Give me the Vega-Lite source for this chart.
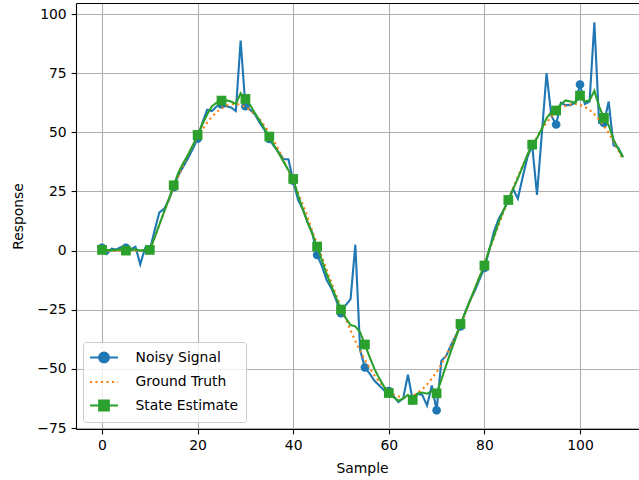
{
  "$schema": "https://vega.github.io/schema/vega-lite/v6.json",
  "width": 563,
  "height": 426,
  "autosize": {"type": "none"},
  "padding": {"left": 76, "top": 3, "right": 0, "bottom": 51},
  "background": "white",
  "config": {
    "view": {"stroke": null},
    "axis": {
      "domainColor": "black", "domainWidth": 1.1,
      "tickColor": "black", "tickWidth": 1.1, "tickSize": 4.9,
      "labelFont": "DejaVu Sans", "labelFontSize": 13.9, "labelColor": "black", "labelPadding": 4.9,
      "titleFont": "DejaVu Sans", "titleFontSize": 13.9, "titleFontWeight": "normal", "titleColor": "black", "titlePadding": 5.6,
      "gridColor": "#b0b0b0", "gridWidth": 1.1, "gridOpacity": 1
    }
  },
  "data": {"values": [
    {"x":0,"n":1.2,"g":0,"s":0.3},{"x":1,"n":-1.5,"g":0,"s":0.2},{"x":2,"n":0.8,"g":0,"s":0.2},{"x":3,"n":0.5,"g":0,"s":0.3},{"x":4,"n":1.5,"g":0,"s":0.5},
    {"x":5,"n":1.2,"g":0,"s":0.0},{"x":6,"n":0.6,"g":0,"s":0.3},{"x":7,"n":1.6,"g":0,"s":0.5},{"x":8,"n":-5.8,"g":0,"s":0.0},{"x":9,"n":1.0,"g":0,"s":0.2},
    {"x":10,"n":0.3,"g":0,"s":0.3},{"x":11,"n":8.5,"g":5.48,"s":5.5},{"x":12,"n":16.2,"g":10.92,"s":11},{"x":13,"n":17.6,"g":16.27,"s":16.5},{"x":14,"n":21.5,"g":21.49,"s":22},
    {"x":15,"n":26.8,"g":26.55,"s":27.6},{"x":16,"n":32,"g":31.39,"s":33},{"x":17,"n":35.5,"g":36.0,"s":37},{"x":18,"n":39,"g":40.32,"s":40.5},{"x":19,"n":43,"g":44.32,"s":44.5},
    {"x":20,"n":47.3,"g":47.98,"s":48.9},{"x":21,"n":54,"g":51.26,"s":53.5},{"x":22,"n":59.5,"g":54.12,"s":57.5},{"x":23,"n":59,"g":56.6,"s":61},{"x":24,"n":61,"g":58.61,"s":62.5},
    {"x":25,"n":61.8,"g":60.18,"s":63.4},{"x":26,"n":61,"g":61.25,"s":63.5},{"x":27,"n":60.5,"g":61.86,"s":63},{"x":28,"n":59,"g":61.98,"s":62},{"x":29,"n":88.8,"g":61.62,"s":66.5},
    {"x":30,"n":61,"g":60.77,"s":64.1},{"x":31,"n":59.5,"g":59.44,"s":61.5},{"x":32,"n":57.5,"g":57.64,"s":58},{"x":33,"n":54,"g":55.41,"s":55},{"x":34,"n":51,"g":52.74,"s":51.5},
    {"x":35,"n":47.2,"g":49.67,"s":48.2},{"x":36,"n":44,"g":46.22,"s":44.5},{"x":37,"n":41.5,"g":42.43,"s":41},{"x":38,"n":38.6,"g":38.31,"s":37.5},{"x":39,"n":38.6,"g":33.92,"s":34},
    {"x":40,"n":29.5,"g":29.28,"s":30.3},{"x":41,"n":21.5,"g":24.43,"s":23.5},{"x":42,"n":17.5,"g":19.41,"s":17.5},{"x":43,"n":12,"g":14.27,"s":12},{"x":44,"n":7.5,"g":8.21,"s":7},
    {"x":45,"n":-1.8,"g":2.74,"s":1.7},{"x":46,"n":-6.5,"g":-2.74,"s":-4},{"x":47,"n":-12.5,"g":-8.21,"s":-10},{"x":48,"n":-16,"g":-13.61,"s":-15},{"x":49,"n":-21,"g":-18.9,"s":-20},
    {"x":50,"n":-26.4,"g":-24.04,"s":-24.9},{"x":51,"n":-23,"g":-29.0,"s":-28.5},{"x":52,"n":-20.5,"g":-33.73,"s":-31.5},{"x":53,"n":2.5,"g":-38.2,"s":-32},{"x":54,"n":-42,"g":-42.36,"s":-34.5},
    {"x":55,"n":-49.4,"g":-46.19,"s":-39.7},{"x":56,"n":-52,"g":-49.67,"s":-45},{"x":57,"n":-55,"g":-52.76,"s":-50},{"x":58,"n":-57,"g":-55.45,"s":-54},{"x":59,"n":-59,"g":-57.67,"s":-57.5},
    {"x":60,"n":-59.4,"g":-59.46,"s":-60.2},{"x":61,"n":-61.5,"g":-60.78,"s":-62},{"x":62,"n":-64,"g":-61.62,"s":-63.5},{"x":63,"n":-62.5,"g":-61.99,"s":-62.5},{"x":64,"n":-52.5,"g":-61.87,"s":-61},
    {"x":65,"n":-63.3,"g":-61.26,"s":-63.1},{"x":66,"n":-60.5,"g":-60.19,"s":-60.5},{"x":67,"n":-61,"g":-58.63,"s":-60},{"x":68,"n":-65.5,"g":-56.61,"s":-60.5},{"x":69,"n":-57,"g":-54.13,"s":-59.5},
    {"x":70,"n":-67.5,"g":-51.26,"s":-60.3},{"x":71,"n":-46.5,"g":-47.98,"s":-54.5},{"x":72,"n":-44.5,"g":-44.33,"s":-48.5},{"x":73,"n":-40,"g":-40.33,"s":-42.5},{"x":74,"n":-36,"g":-36.0,"s":-37},
    {"x":75,"n":-32,"g":-31.4,"s":-31},{"x":76,"n":-26,"g":-26.54,"s":-26},{"x":77,"n":-21,"g":-21.49,"s":-21},{"x":78,"n":-17,"g":-16.27,"s":-16},{"x":79,"n":-12,"g":-10.91,"s":-11},
    {"x":80,"n":-7.3,"g":-5.48,"s":-6.3},{"x":81,"n":0,"g":0,"s":0.5},{"x":82,"n":8,"g":5.48,"s":6},{"x":83,"n":13.5,"g":10.92,"s":12},{"x":84,"n":17,"g":16.27,"s":17},
    {"x":85,"n":21.2,"g":21.49,"s":21.4},{"x":86,"n":26,"g":26.55,"s":26},{"x":87,"n":22,"g":31.39,"s":30.5},{"x":88,"n":31,"g":36.0,"s":35.5},{"x":89,"n":39.5,"g":40.32,"s":40.5},
    {"x":90,"n":44.5,"g":44.32,"s":44.8},{"x":91,"n":23.5,"g":47.98,"s":47.5},{"x":92,"n":49,"g":51.26,"s":51.5},{"x":93,"n":75,"g":54.12,"s":56},{"x":94,"n":57,"g":56.6,"s":58.5},
    {"x":95,"n":53.3,"g":58.61,"s":59.2},{"x":96,"n":62.5,"g":60.18,"s":62},{"x":97,"n":61.5,"g":61.25,"s":63.5},{"x":98,"n":61.5,"g":61.86,"s":63},{"x":99,"n":62.5,"g":61.98,"s":62.5},
    {"x":100,"n":70.2,"g":61.62,"s":65.5},{"x":101,"n":62,"g":60.77,"s":63},{"x":102,"n":63,"g":59.44,"s":63.5},{"x":103,"n":96.5,"g":57.64,"s":67.5},{"x":104,"n":54,"g":55.41,"s":61},
    {"x":105,"n":54,"g":52.74,"s":56.1},{"x":106,"n":63,"g":49.67,"s":53},{"x":107,"n":44.5,"g":46.22,"s":47},{"x":108,"n":43.5,"g":42.43,"s":43},{"x":109,"n":39.5,"g":38.31,"s":39.5}
  ]},
  "resolve": {"axis": {"x": "independent"}},
  "layer": [
    {
      "mark": {"type": "line", "strokeWidth": 2.1},
      "encoding": {
        "x": {"field": "x", "type": "quantitative", "scale": {"domain": [-5.44, 112.34], "nice": false, "zero": false},
              "axis": {"title": "Sample", "values": [0, 20, 40, 60, 80, 100], "grid": true, "titlePadding": 8.5, "titleX": 286}},
        "y": {"field": "n", "type": "quantitative", "title": "Response",
              "scale": {"domain": [-75.4, 104.65], "nice": false, "zero": false},
              "axis": {"values": [-75, -50, -25, 0, 25, 50, 75, 100], "grid": true, "titlePadding": 11}},
        "color": {"datum": "Noisy Signal",
          "scale": {"domain": ["Noisy Signal", "Ground Truth", "State Estimate"], "range": ["#1f77b4", "#ff7f0e", "#2ca02c"]},
          "legend": {
            "orient": "bottom-left", "offset": 7, "title": null, "padding": 7, "rowPadding": 6.5,
            "symbolSize": 196, "symbolStrokeWidth": 2.1, "symbolOffset": 5.5, "labelOffset": 23,
            "labelFont": "DejaVu Sans", "labelFontSize": 13.9, "labelColor": "black",
            "fillColor": "rgba(255,255,255,0.8)", "strokeColor": "#cccccc", "cornerRadius": 3,
            "encode": {
              "symbols": {"update": {
                "shape": {"signal": "datum.value === 'Noisy Signal' ? 'M-2,0H2M-0.69,0A0.69,0.69 0 1,0 0.69,0A0.69,0.69 0 1,0 -0.69,0Z' : datum.value === 'State Estimate' ? 'M-2,0H2M-0.69,-0.69H0.69V0.69H-0.69Z' : 'M-2,0H2'"},
                "strokeDash": {"signal": "datum.value === 'Ground Truth' ? [2.1, 3.4] : [1, 0]"},
                "fill": {"signal": "datum.value === 'Noisy Signal' ? '#1f77b4' : datum.value === 'State Estimate' ? '#2ca02c' : 'transparent'"},
                "stroke": {"signal": "datum.value === 'Noisy Signal' ? '#1f77b4' : datum.value === 'State Estimate' ? '#2ca02c' : '#ff7f0e'"},
                "strokeWidth": {"value": 2.1},
                "opacity": {"value": 1}
              }}
            }
          }}
      }
    },
    {
      "transform": [{"filter": "datum.x % 5 == 0"}],
      "mark": {"type": "point", "shape": "circle", "filled": true, "size": 75, "opacity": 1},
      "encoding": {
        "x": {"field": "x", "type": "quantitative", "axis": null},
        "y": {"field": "n", "type": "quantitative", "title": "Response"},
        "color": {"datum": "Noisy Signal"}
      }
    },
    {
      "mark": {"type": "line", "strokeWidth": 2.1, "strokeDash": [2.1, 3.4], "strokeCap": "butt"},
      "encoding": {
        "x": {"field": "x", "type": "quantitative", "axis": null},
        "y": {"field": "g", "type": "quantitative", "title": "Response"},
        "color": {"datum": "Ground Truth"}
      }
    },
    {
      "mark": {"type": "line", "strokeWidth": 2.1},
      "encoding": {
        "x": {"field": "x", "type": "quantitative", "axis": null},
        "y": {"field": "s", "type": "quantitative", "title": "Response"},
        "color": {"datum": "State Estimate"}
      }
    },
    {
      "transform": [{"filter": "datum.x % 5 == 0"}],
      "mark": {"type": "point", "shape": "square", "filled": true, "size": 95, "opacity": 1},
      "encoding": {
        "x": {"field": "x", "type": "quantitative",
              "axis": {"orient": "top", "labels": false, "ticks": false, "grid": false, "title": null, "domain": true}},
        "y": {"field": "s", "type": "quantitative", "title": "Response"},
        "color": {"datum": "State Estimate"}
      }
    }
  ]
}
